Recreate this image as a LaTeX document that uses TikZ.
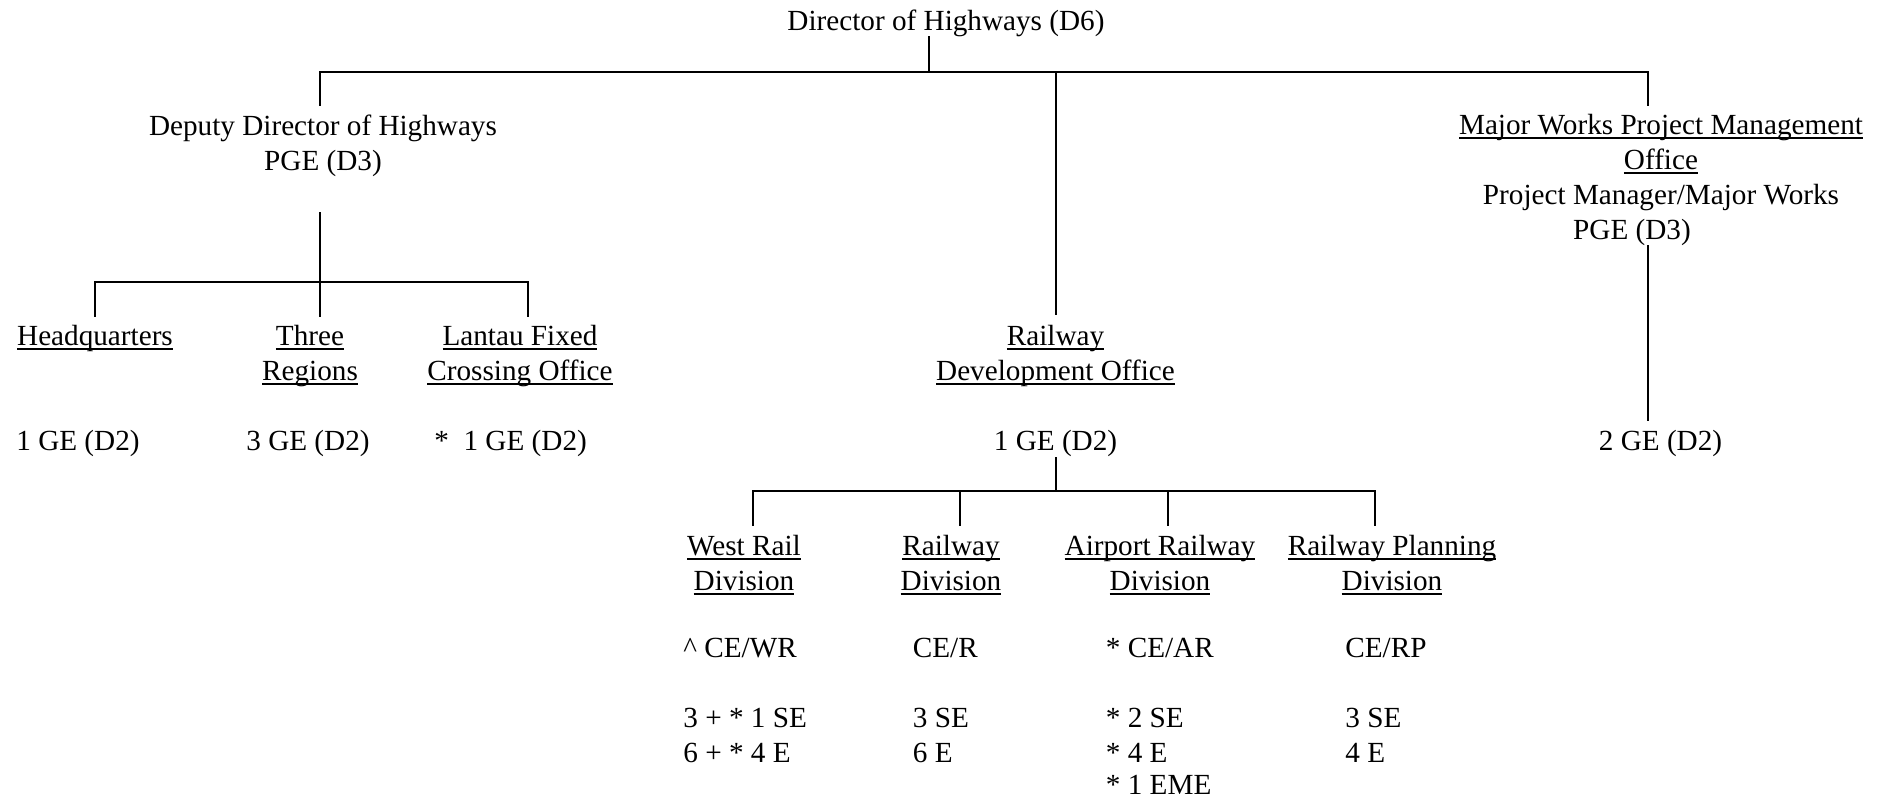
\documentclass[tikz,border=0pt]{standalone}
\usepackage{fontspec}
\setmainfont{Liberation Serif}
\newlength\myulw
\newcommand\myul[1]{\settowidth\myulw{#1}\rlap{\rule[-2.3pt]{\myulw}{0.9pt}}#1}
\tikzset{
  lbl/.style={inner sep=0pt, anchor=base},
  lbll/.style={inner sep=0pt, anchor=base west},
  hline/.style={line width=1pt, line cap=rect},
  vline/.style={line width=0.8pt},
}
\begin{document}
\begin{tikzpicture}[x=0.5pt,y=-0.5pt,font=\fontsize{14.6}{17.5}\selectfont]
\useasboundingbox (0,0) rectangle (1886,799);
% top
\node[lbl] (dir) at (946,30) {Director of Highways (D6)};
% deputy
\node[lbl] (dep1) at (323,135) {Deputy Director of Highways};
\node[lbl] (dep2) at (323,170) {PGE (D3)};
% major works
\node[lbl] (mw1) at (1661,134) {\myul{Major Works Project Management}};
\node[lbl] (mw2) at (1661,169) {\myul{Office}};
\node[lbl] (mw3) at (1661,204) {Project Manager/Major Works};
\node[lbl] (mw4) at (1632,239) {PGE (D3)};
% second level left
\node[lbl] (hq) at (95,345) {\myul{Headquarters}};
\node[lbl] (thr1) at (310,345) {\myul{Three}};
\node[lbl] (thr2) at (310,380) {\myul{Regions}};
\node[lbl] (lan1) at (520,345) {\myul{Lantau Fixed}};
\node[lbl] (lan2) at (520,380) {\myul{Crossing Office}};
\node[lbl] (rdo1) at (1055.5,345) {\myul{Railway}};
\node[lbl] (rdo2) at (1055.5,380) {\myul{Development Office}};
% grades
\node[lbl] (hqn) at (78,450) {1 GE (D2)};
\node[lbl] (thrn) at (308,450) {3 GE (D2)};
\node[lbl] (lann) at (510.6,450) {*~~1 GE (D2)};
\node[lbl] (rdon) at (1055.5,450) {1 GE (D2)};
\node[lbl] (mwn) at (1660.5,450) {2 GE (D2)};
% divisions
\node[lbl] (wr1) at (744,555) {\myul{West Rail}};
\node[lbl] (wr2) at (744,590) {\myul{Division}};
\node[lbl] (rd1) at (951,555) {\myul{Railway}};
\node[lbl] (rd2) at (951,590) {\myul{Division}};
\node[lbl] (ar1) at (1160,555) {\myul{Airport Railway}};
\node[lbl] (ar2) at (1160,590) {\myul{Division}};
\node[lbl] (rp1) at (1392,555) {\myul{Railway Planning}};
\node[lbl] (rp2) at (1392,590) {\myul{Division}};
% staff
\node[lbll] (wrce) at (683,657) {\textasciicircum{} CE/WR};
\node[lbll] (wrse) at (683,727) {3 + * 1 SE};
\node[lbll] (wre) at (683,762) {6 + * 4 E};
\node[lbll] (rdce) at (912.5,657) {CE/R};
\node[lbll] (rdse) at (912.5,727) {3 SE};
\node[lbll] (rde) at (912.5,762) {6 E};
\node[lbll] (arce) at (1105.5,657) {* CE/AR};
\node[lbll] (arse) at (1105.5,727) {* 2 SE};
\node[lbll] (are) at (1105.5,762) {* 4 E};
\node[lbll] (areme) at (1105.5,794) {* 1 EME};
\node[lbll] (rpce) at (1345,657) {CE/RP};
\node[lbll] (rpse) at (1345,727) {3 SE};
\node[lbll] (rpe) at (1345,762) {4 E};
% connector points
\coordinate (d0) at (929,36);
\coordinate (b0) at (929,72);
\coordinate (bL) at (320,72);
\coordinate (bM) at (1056,72);
\coordinate (bR) at (1648,72);
\coordinate (depTop) at (320,106);
\coordinate (mwTop) at (1648,106);
\coordinate (rdoTop) at (1056,315);
\coordinate (depBot) at (320,212);
\coordinate (sL) at (95,282);
\coordinate (sM) at (320,282);
\coordinate (sR) at (528,282);
\coordinate (hqTop) at (95,317);
\coordinate (thrTop) at (320,317);
\coordinate (lanTop) at (528,317);
\coordinate (mwBot) at (1648,245);
\coordinate (mwnTop) at (1648,421);
\coordinate (rdoBot) at (1056,457);
\coordinate (v0) at (1056,491);
\coordinate (v1) at (753,491);
\coordinate (v2) at (960,491);
\coordinate (v3) at (1168,491);
\coordinate (v4) at (1375,491);
\coordinate (wrTop) at (753,526);
\coordinate (rdTop) at (960,526);
\coordinate (arTop) at (1168,526);
\coordinate (rpTop) at (1375,526);
% connectors
\draw[vline] (d0) -- (b0);
\draw[hline] (bL) -- (bR);
\draw[vline] (bL) -- (depTop);
\draw[vline] (bM) -- (rdoTop);
\draw[vline] (bR) -- (mwTop);
\draw[vline] (depBot) -- (thrTop);
\draw[hline] (sL) -- (sR);
\draw[vline] (sL) -- (hqTop);
\draw[vline] (sR) -- (lanTop);
\draw[vline] (mwBot) -- (mwnTop);
\draw[vline] (rdoBot) -- (v0);
\draw[hline] (v1) -- (v4);
\draw[vline] (v1) -- (wrTop);
\draw[vline] (v2) -- (rdTop);
\draw[vline] (v3) -- (arTop);
\draw[vline] (v4) -- (rpTop);
\end{tikzpicture}
\end{document}
